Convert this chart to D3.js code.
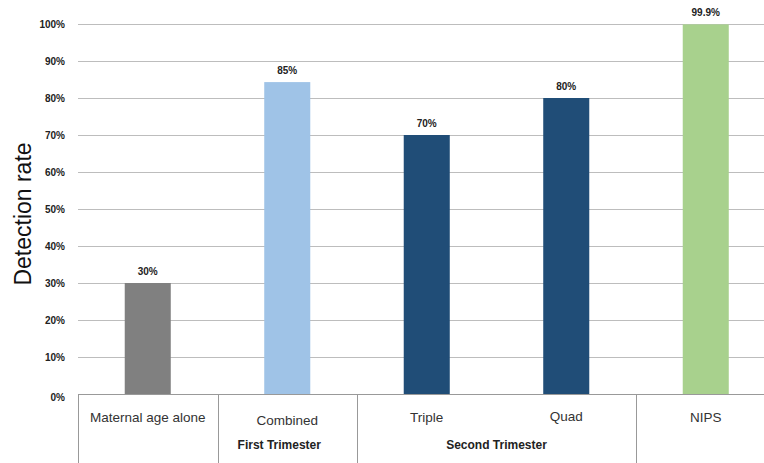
<!DOCTYPE html>
<html>
<head>
<meta charset="utf-8">
<script src="https://cdn.jsdelivr.net/npm/d3@7"></script>
<style>
	body { margin: 0; background: #fff; }
	svg { display: block; font-family: "Liberation Sans", Arial, Helvetica, sans-serif; }
</style>
</head>
<body>
<div id="chart"></div>
<script>
// chart values
var categories = ['Maternal age alone', 'Combined', 'Triple', 'Quad', 'NIPS'];
var values = [30, 84.3, 70, 80, 99.9];
var valueLabels = ['30%', '85%', '70%', '80%', '99.9%'];
var barColors = ['#808080', '#9fc3e7', '#204d77', '#204d77', '#a8d18d'];
var yTicks = [0, 10, 20, 30, 40, 50, 60, 70, 80, 90, 100];
var groups = [
	{ label: 'First Trimester', from: 1, to: 1 },
	{ label: 'Second Trimester', from: 2, to: 3 }
];
// band indexes where a table separator is drawn (left edge of band)
var separators = [0, 1, 2, 4];

(function () {
	var width = 764, height = 463;
	var plotLeft = 78, plotTop = 24, plotBottom = 394;

	var svg = d3.select('#chart').append('svg')
		.attr('width', width)
		.attr('height', height);

	var x = d3.scaleBand()
		.domain(categories)
		.range([plotLeft, plotLeft + 697.5])
		.paddingInner(0.67)
		.paddingOuter(0.335);

	var y = d3.scaleLinear()
		.domain([0, 100])
		.range([plotBottom, plotTop]);

	var step = x.step();
	function bandLeft(i) { return x(categories[i]) - step * x.paddingOuter(); }
	function bandCenter(i) { return x(categories[i]) + x.bandwidth() / 2; }

	// grid lines
	svg.append('g')
		.selectAll('line')
		.data(yTicks.filter(function (d) { return d > 0; }))
		.join('line')
		.attr('x1', plotLeft)
		.attr('x2', width)
		.attr('y1', function (d) { return Math.round(y(d)) + 0.5; })
		.attr('y2', function (d) { return Math.round(y(d)) + 0.5; })
		.style('stroke', '#bdbdbd')
		.style('stroke-width', 1);

	// tick labels
	svg.append('g')
		.selectAll('text')
		.data(yTicks)
		.join('text')
		.attr('x', 65)
		.attr('y', function (d) { return y(d) + (d === 0 ? 7 : 4); })
		.attr('text-anchor', 'end')
		.style('font-size', '10px')
		.style('font-weight', 'bold')
		.style('fill', '#222')
		.text(function (d) { return d + '%'; });

	// axis title
	svg.append('text')
		.attr('transform', 'translate(31,214) rotate(-90)')
		.attr('text-anchor', 'middle')
		.style('font-size', '23px')
		.style('fill', '#111')
		.text('Detection rate');

	// bars
	svg.append('g')
		.selectAll('rect')
		.data(values)
		.join('rect')
		.attr('x', function (d, i) { return x(categories[i]); })
		.attr('y', function (d) { return y(d); })
		.attr('width', x.bandwidth())
		.attr('height', function (d) { return plotBottom - y(d); })
		.style('fill', function (d, i) { return barColors[i]; });

	// value labels
	svg.append('g')
		.selectAll('text')
		.data(values)
		.join('text')
		.attr('x', function (d, i) { return bandCenter(i); })
		.attr('y', function (d) { return y(d) - 8; })
		.attr('text-anchor', 'middle')
		.style('font-size', '10px')
		.style('font-weight', 'bold')
		.style('fill', '#222')
		.text(function (d, i) { return valueLabels[i]; });

	// table under the axis
	svg.append('line')
		.attr('x1', plotLeft).attr('x2', width)
		.attr('y1', plotBottom + 0.5).attr('y2', plotBottom + 0.5)
		.style('stroke', '#999');

	svg.append('g')
		.selectAll('line')
		.data(separators)
		.join('line')
		.attr('x1', function (i) { return Math.round(bandLeft(i)) + 0.5; })
		.attr('x2', function (i) { return Math.round(bandLeft(i)) + 0.5; })
		.attr('y1', plotBottom)
		.attr('y2', height)
		.style('stroke', '#999');

	var catY = [418, 421, 418, 417, 418];
	svg.append('g')
		.selectAll('text')
		.data(categories)
		.join('text')
		.attr('x', function (d, i) { return bandCenter(i); })
		.attr('y', function (d, i) { return catY[i] + 4; })
		.attr('text-anchor', 'middle')
		.style('font-size', '13.5px')
		.style('fill', '#333')
		.text(function (d) { return d; });

	svg.append('g')
		.selectAll('text')
		.data(groups)
		.join('text')
		.attr('x', function (g) {
			var a = bandLeft(g.from), b = bandLeft(g.to) + step;
			return (a + b) / 2 - (g.from === g.to ? 8 : 0);
		})
		.attr('y', 449)
		.attr('text-anchor', 'middle')
		.style('font-size', '12px')
		.style('font-weight', 'bold')
		.style('fill', '#222')
		.text(function (g) { return g.label; });
})();
</script>
</body>
</html>
